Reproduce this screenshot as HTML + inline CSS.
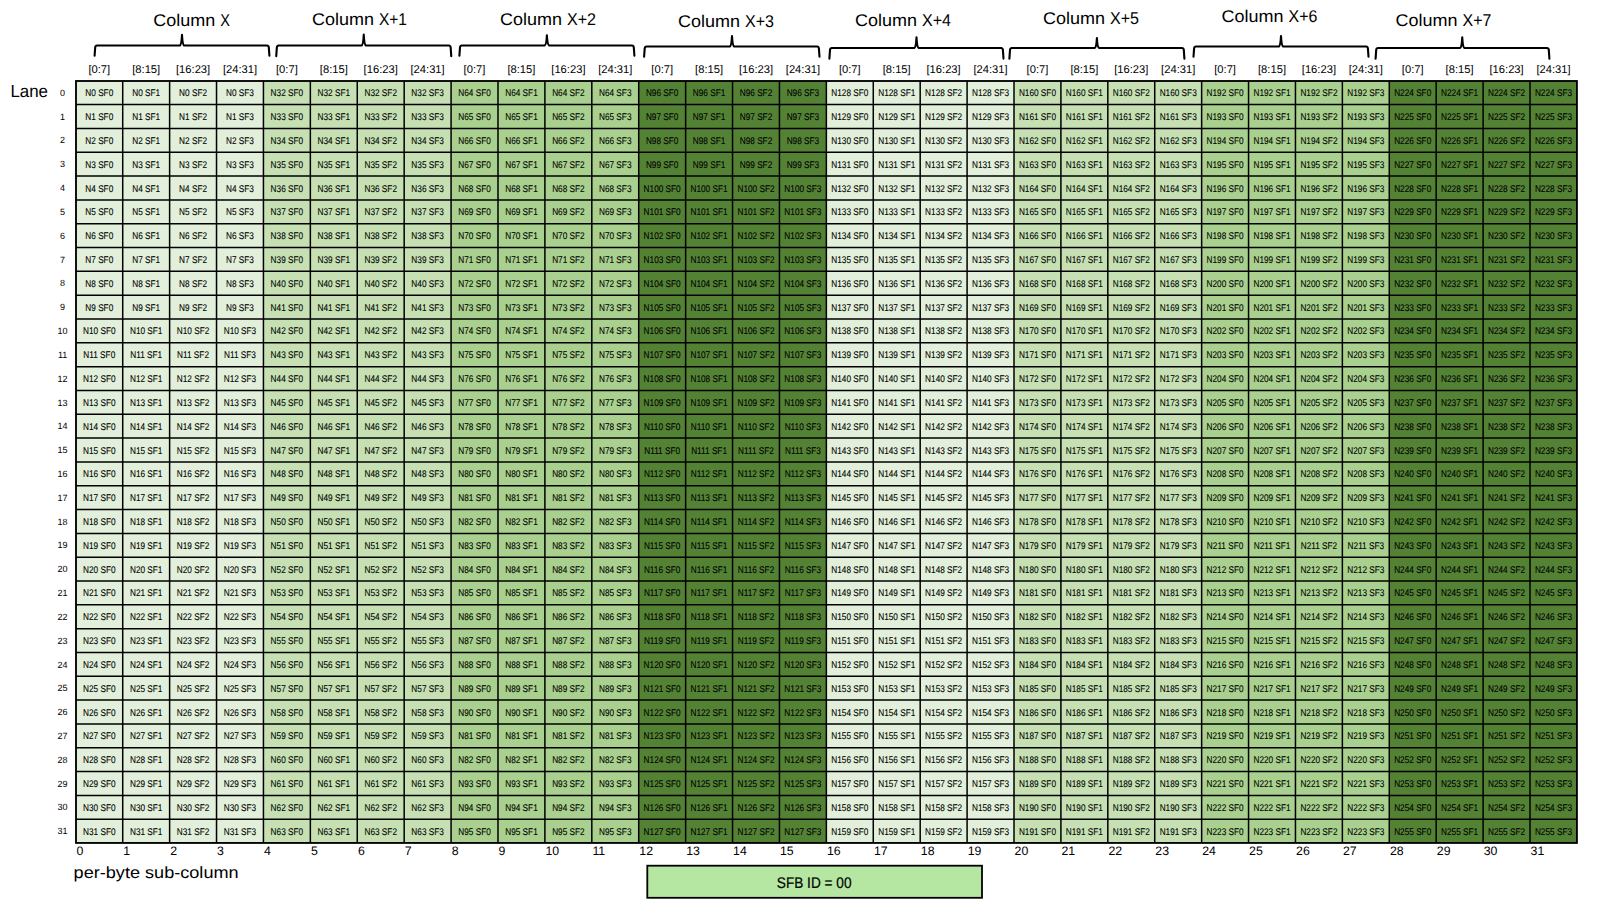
<!DOCTYPE html>
<html><head><meta charset="utf-8"><style>
html,body{margin:0;padding:0;background:#fff;width:1600px;height:900px;overflow:hidden}
svg{display:block;font-family:"Liberation Sans",sans-serif;text-rendering:geometricPrecision}
.c{font-size:9.70px;text-anchor:middle;fill:#000;stroke:#000;stroke-width:0.1px}
.r{font-size:9px;text-anchor:middle;fill:#000}
.b{font-size:11.2px;text-anchor:middle;fill:#000}
.h{font-size:17px;fill:#000}
.n{font-size:12.3px;fill:#000}
.br{fill:none;stroke:#000;stroke-width:2.1;stroke-linejoin:round;stroke-linecap:round}
</style></head><body>
<svg width="1600" height="900" viewBox="0 0 1600 900">

<rect x="75.80" y="80.80" width="187.64" height="762.24" fill="#E2EFDA"/>
<rect x="263.44" y="80.80" width="187.64" height="762.24" fill="#C6E0B4"/>
<rect x="451.08" y="80.80" width="187.64" height="762.24" fill="#A9D08E"/>
<rect x="638.72" y="80.80" width="187.64" height="762.24" fill="#548235"/>
<rect x="826.36" y="80.80" width="187.64" height="762.24" fill="#E2EFDA"/>
<rect x="1014.00" y="80.80" width="187.64" height="762.24" fill="#C6E0B4"/>
<rect x="1201.64" y="80.80" width="187.64" height="762.24" fill="#A9D08E"/>
<rect x="1389.28" y="80.80" width="187.64" height="762.24" fill="#548235"/>
<path d="M122.71 80.80V843.04M169.62 80.80V843.04M216.53 80.80V843.04M263.44 80.80V843.04M310.35 80.80V843.04M357.26 80.80V843.04M404.17 80.80V843.04M451.08 80.80V843.04M497.99 80.80V843.04M544.90 80.80V843.04M591.81 80.80V843.04M638.72 80.80V843.04M685.63 80.80V843.04M732.54 80.80V843.04M779.45 80.80V843.04M826.36 80.80V843.04M873.27 80.80V843.04M920.18 80.80V843.04M967.09 80.80V843.04M1014.00 80.80V843.04M1060.91 80.80V843.04M1107.82 80.80V843.04M1154.73 80.80V843.04M1201.64 80.80V843.04M1248.55 80.80V843.04M1295.46 80.80V843.04M1342.37 80.80V843.04M1389.28 80.80V843.04M1436.19 80.80V843.04M1483.10 80.80V843.04M1530.01 80.80V843.04M75.80 104.62H1576.92M75.80 128.44H1576.92M75.80 152.26H1576.92M75.80 176.08H1576.92M75.80 199.90H1576.92M75.80 223.72H1576.92M75.80 247.54H1576.92M75.80 271.36H1576.92M75.80 295.18H1576.92M75.80 319.00H1576.92M75.80 342.82H1576.92M75.80 366.64H1576.92M75.80 390.46H1576.92M75.80 414.28H1576.92M75.80 438.10H1576.92M75.80 461.92H1576.92M75.80 485.74H1576.92M75.80 509.56H1576.92M75.80 533.38H1576.92M75.80 557.20H1576.92M75.80 581.02H1576.92M75.80 604.84H1576.92M75.80 628.66H1576.92M75.80 652.48H1576.92M75.80 676.30H1576.92M75.80 700.12H1576.92M75.80 723.94H1576.92M75.80 747.76H1576.92M75.80 771.58H1576.92M75.80 795.40H1576.92M75.80 819.22H1576.92" stroke="#000" stroke-width="1.5" fill="none"/>
<rect x="76.00" y="81.00" width="1500.92" height="761.94" fill="none" stroke="#000" stroke-width="1.85"/>
<g transform="scale(0.850,1)">
<text class="c" x="116.8" y="96.2">N0 SF0</text>
<text class="c" x="172.0" y="96.2">N0 SF1</text>
<text class="c" x="227.1" y="96.2">N0 SF2</text>
<text class="c" x="282.3" y="96.2">N0 SF3</text>
<text class="c" x="337.5" y="96.2">N32 SF0</text>
<text class="c" x="392.7" y="96.2">N32 SF1</text>
<text class="c" x="447.9" y="96.2">N32 SF2</text>
<text class="c" x="503.1" y="96.2">N32 SF3</text>
<text class="c" x="558.3" y="96.2">N64 SF0</text>
<text class="c" x="613.5" y="96.2">N64 SF1</text>
<text class="c" x="668.7" y="96.2">N64 SF2</text>
<text class="c" x="723.8" y="96.2">N64 SF3</text>
<text class="c" x="779.0" y="96.2">N96 SF0</text>
<text class="c" x="834.2" y="96.2">N96 SF1</text>
<text class="c" x="889.4" y="96.2">N96 SF2</text>
<text class="c" x="944.6" y="96.2">N96 SF3</text>
<text class="c" x="999.8" y="96.2">N128 SF0</text>
<text class="c" x="1055.0" y="96.2">N128 SF1</text>
<text class="c" x="1110.2" y="96.2">N128 SF2</text>
<text class="c" x="1165.3" y="96.2">N128 SF3</text>
<text class="c" x="1220.5" y="96.2">N160 SF0</text>
<text class="c" x="1275.7" y="96.2">N160 SF1</text>
<text class="c" x="1330.9" y="96.2">N160 SF2</text>
<text class="c" x="1386.1" y="96.2">N160 SF3</text>
<text class="c" x="1441.3" y="96.2">N192 SF0</text>
<text class="c" x="1496.5" y="96.2">N192 SF1</text>
<text class="c" x="1551.7" y="96.2">N192 SF2</text>
<text class="c" x="1606.9" y="96.2">N192 SF3</text>
<text class="c" x="1662.0" y="96.2">N224 SF0</text>
<text class="c" x="1717.2" y="96.2">N224 SF1</text>
<text class="c" x="1772.4" y="96.2">N224 SF2</text>
<text class="c" x="1827.6" y="96.2">N224 SF3</text>
<text class="c" x="116.8" y="120.0">N1 SF0</text>
<text class="c" x="172.0" y="120.0">N1 SF1</text>
<text class="c" x="227.1" y="120.0">N1 SF2</text>
<text class="c" x="282.3" y="120.0">N1 SF3</text>
<text class="c" x="337.5" y="120.0">N33 SF0</text>
<text class="c" x="392.7" y="120.0">N33 SF1</text>
<text class="c" x="447.9" y="120.0">N33 SF2</text>
<text class="c" x="503.1" y="120.0">N33 SF3</text>
<text class="c" x="558.3" y="120.0">N65 SF0</text>
<text class="c" x="613.5" y="120.0">N65 SF1</text>
<text class="c" x="668.7" y="120.0">N65 SF2</text>
<text class="c" x="723.8" y="120.0">N65 SF3</text>
<text class="c" x="779.0" y="120.0">N97 SF0</text>
<text class="c" x="834.2" y="120.0">N97 SF1</text>
<text class="c" x="889.4" y="120.0">N97 SF2</text>
<text class="c" x="944.6" y="120.0">N97 SF3</text>
<text class="c" x="999.8" y="120.0">N129 SF0</text>
<text class="c" x="1055.0" y="120.0">N129 SF1</text>
<text class="c" x="1110.2" y="120.0">N129 SF2</text>
<text class="c" x="1165.3" y="120.0">N129 SF3</text>
<text class="c" x="1220.5" y="120.0">N161 SF0</text>
<text class="c" x="1275.7" y="120.0">N161 SF1</text>
<text class="c" x="1330.9" y="120.0">N161 SF2</text>
<text class="c" x="1386.1" y="120.0">N161 SF3</text>
<text class="c" x="1441.3" y="120.0">N193 SF0</text>
<text class="c" x="1496.5" y="120.0">N193 SF1</text>
<text class="c" x="1551.7" y="120.0">N193 SF2</text>
<text class="c" x="1606.9" y="120.0">N193 SF3</text>
<text class="c" x="1662.0" y="120.0">N225 SF0</text>
<text class="c" x="1717.2" y="120.0">N225 SF1</text>
<text class="c" x="1772.4" y="120.0">N225 SF2</text>
<text class="c" x="1827.6" y="120.0">N225 SF3</text>
<text class="c" x="116.8" y="143.8">N2 SF0</text>
<text class="c" x="172.0" y="143.8">N2 SF1</text>
<text class="c" x="227.1" y="143.8">N2 SF2</text>
<text class="c" x="282.3" y="143.8">N2 SF3</text>
<text class="c" x="337.5" y="143.8">N34 SF0</text>
<text class="c" x="392.7" y="143.8">N34 SF1</text>
<text class="c" x="447.9" y="143.8">N34 SF2</text>
<text class="c" x="503.1" y="143.8">N34 SF3</text>
<text class="c" x="558.3" y="143.8">N66 SF0</text>
<text class="c" x="613.5" y="143.8">N66 SF1</text>
<text class="c" x="668.7" y="143.8">N66 SF2</text>
<text class="c" x="723.8" y="143.8">N66 SF3</text>
<text class="c" x="779.0" y="143.8">N98 SF0</text>
<text class="c" x="834.2" y="143.8">N98 SF1</text>
<text class="c" x="889.4" y="143.8">N98 SF2</text>
<text class="c" x="944.6" y="143.8">N98 SF3</text>
<text class="c" x="999.8" y="143.8">N130 SF0</text>
<text class="c" x="1055.0" y="143.8">N130 SF1</text>
<text class="c" x="1110.2" y="143.8">N130 SF2</text>
<text class="c" x="1165.3" y="143.8">N130 SF3</text>
<text class="c" x="1220.5" y="143.8">N162 SF0</text>
<text class="c" x="1275.7" y="143.8">N162 SF1</text>
<text class="c" x="1330.9" y="143.8">N162 SF2</text>
<text class="c" x="1386.1" y="143.8">N162 SF3</text>
<text class="c" x="1441.3" y="143.8">N194 SF0</text>
<text class="c" x="1496.5" y="143.8">N194 SF1</text>
<text class="c" x="1551.7" y="143.8">N194 SF2</text>
<text class="c" x="1606.9" y="143.8">N194 SF3</text>
<text class="c" x="1662.0" y="143.8">N226 SF0</text>
<text class="c" x="1717.2" y="143.8">N226 SF1</text>
<text class="c" x="1772.4" y="143.8">N226 SF2</text>
<text class="c" x="1827.6" y="143.8">N226 SF3</text>
<text class="c" x="116.8" y="167.7">N3 SF0</text>
<text class="c" x="172.0" y="167.7">N3 SF1</text>
<text class="c" x="227.1" y="167.7">N3 SF2</text>
<text class="c" x="282.3" y="167.7">N3 SF3</text>
<text class="c" x="337.5" y="167.7">N35 SF0</text>
<text class="c" x="392.7" y="167.7">N35 SF1</text>
<text class="c" x="447.9" y="167.7">N35 SF2</text>
<text class="c" x="503.1" y="167.7">N35 SF3</text>
<text class="c" x="558.3" y="167.7">N67 SF0</text>
<text class="c" x="613.5" y="167.7">N67 SF1</text>
<text class="c" x="668.7" y="167.7">N67 SF2</text>
<text class="c" x="723.8" y="167.7">N67 SF3</text>
<text class="c" x="779.0" y="167.7">N99 SF0</text>
<text class="c" x="834.2" y="167.7">N99 SF1</text>
<text class="c" x="889.4" y="167.7">N99 SF2</text>
<text class="c" x="944.6" y="167.7">N99 SF3</text>
<text class="c" x="999.8" y="167.7">N131 SF0</text>
<text class="c" x="1055.0" y="167.7">N131 SF1</text>
<text class="c" x="1110.2" y="167.7">N131 SF2</text>
<text class="c" x="1165.3" y="167.7">N131 SF3</text>
<text class="c" x="1220.5" y="167.7">N163 SF0</text>
<text class="c" x="1275.7" y="167.7">N163 SF1</text>
<text class="c" x="1330.9" y="167.7">N163 SF2</text>
<text class="c" x="1386.1" y="167.7">N163 SF3</text>
<text class="c" x="1441.3" y="167.7">N195 SF0</text>
<text class="c" x="1496.5" y="167.7">N195 SF1</text>
<text class="c" x="1551.7" y="167.7">N195 SF2</text>
<text class="c" x="1606.9" y="167.7">N195 SF3</text>
<text class="c" x="1662.0" y="167.7">N227 SF0</text>
<text class="c" x="1717.2" y="167.7">N227 SF1</text>
<text class="c" x="1772.4" y="167.7">N227 SF2</text>
<text class="c" x="1827.6" y="167.7">N227 SF3</text>
<text class="c" x="116.8" y="191.5">N4 SF0</text>
<text class="c" x="172.0" y="191.5">N4 SF1</text>
<text class="c" x="227.1" y="191.5">N4 SF2</text>
<text class="c" x="282.3" y="191.5">N4 SF3</text>
<text class="c" x="337.5" y="191.5">N36 SF0</text>
<text class="c" x="392.7" y="191.5">N36 SF1</text>
<text class="c" x="447.9" y="191.5">N36 SF2</text>
<text class="c" x="503.1" y="191.5">N36 SF3</text>
<text class="c" x="558.3" y="191.5">N68 SF0</text>
<text class="c" x="613.5" y="191.5">N68 SF1</text>
<text class="c" x="668.7" y="191.5">N68 SF2</text>
<text class="c" x="723.8" y="191.5">N68 SF3</text>
<text class="c" x="779.0" y="191.5">N100 SF0</text>
<text class="c" x="834.2" y="191.5">N100 SF1</text>
<text class="c" x="889.4" y="191.5">N100 SF2</text>
<text class="c" x="944.6" y="191.5">N100 SF3</text>
<text class="c" x="999.8" y="191.5">N132 SF0</text>
<text class="c" x="1055.0" y="191.5">N132 SF1</text>
<text class="c" x="1110.2" y="191.5">N132 SF2</text>
<text class="c" x="1165.3" y="191.5">N132 SF3</text>
<text class="c" x="1220.5" y="191.5">N164 SF0</text>
<text class="c" x="1275.7" y="191.5">N164 SF1</text>
<text class="c" x="1330.9" y="191.5">N164 SF2</text>
<text class="c" x="1386.1" y="191.5">N164 SF3</text>
<text class="c" x="1441.3" y="191.5">N196 SF0</text>
<text class="c" x="1496.5" y="191.5">N196 SF1</text>
<text class="c" x="1551.7" y="191.5">N196 SF2</text>
<text class="c" x="1606.9" y="191.5">N196 SF3</text>
<text class="c" x="1662.0" y="191.5">N228 SF0</text>
<text class="c" x="1717.2" y="191.5">N228 SF1</text>
<text class="c" x="1772.4" y="191.5">N228 SF2</text>
<text class="c" x="1827.6" y="191.5">N228 SF3</text>
<text class="c" x="116.8" y="215.3">N5 SF0</text>
<text class="c" x="172.0" y="215.3">N5 SF1</text>
<text class="c" x="227.1" y="215.3">N5 SF2</text>
<text class="c" x="282.3" y="215.3">N5 SF3</text>
<text class="c" x="337.5" y="215.3">N37 SF0</text>
<text class="c" x="392.7" y="215.3">N37 SF1</text>
<text class="c" x="447.9" y="215.3">N37 SF2</text>
<text class="c" x="503.1" y="215.3">N37 SF3</text>
<text class="c" x="558.3" y="215.3">N69 SF0</text>
<text class="c" x="613.5" y="215.3">N69 SF1</text>
<text class="c" x="668.7" y="215.3">N69 SF2</text>
<text class="c" x="723.8" y="215.3">N69 SF3</text>
<text class="c" x="779.0" y="215.3">N101 SF0</text>
<text class="c" x="834.2" y="215.3">N101 SF1</text>
<text class="c" x="889.4" y="215.3">N101 SF2</text>
<text class="c" x="944.6" y="215.3">N101 SF3</text>
<text class="c" x="999.8" y="215.3">N133 SF0</text>
<text class="c" x="1055.0" y="215.3">N133 SF1</text>
<text class="c" x="1110.2" y="215.3">N133 SF2</text>
<text class="c" x="1165.3" y="215.3">N133 SF3</text>
<text class="c" x="1220.5" y="215.3">N165 SF0</text>
<text class="c" x="1275.7" y="215.3">N165 SF1</text>
<text class="c" x="1330.9" y="215.3">N165 SF2</text>
<text class="c" x="1386.1" y="215.3">N165 SF3</text>
<text class="c" x="1441.3" y="215.3">N197 SF0</text>
<text class="c" x="1496.5" y="215.3">N197 SF1</text>
<text class="c" x="1551.7" y="215.3">N197 SF2</text>
<text class="c" x="1606.9" y="215.3">N197 SF3</text>
<text class="c" x="1662.0" y="215.3">N229 SF0</text>
<text class="c" x="1717.2" y="215.3">N229 SF1</text>
<text class="c" x="1772.4" y="215.3">N229 SF2</text>
<text class="c" x="1827.6" y="215.3">N229 SF3</text>
<text class="c" x="116.8" y="239.1">N6 SF0</text>
<text class="c" x="172.0" y="239.1">N6 SF1</text>
<text class="c" x="227.1" y="239.1">N6 SF2</text>
<text class="c" x="282.3" y="239.1">N6 SF3</text>
<text class="c" x="337.5" y="239.1">N38 SF0</text>
<text class="c" x="392.7" y="239.1">N38 SF1</text>
<text class="c" x="447.9" y="239.1">N38 SF2</text>
<text class="c" x="503.1" y="239.1">N38 SF3</text>
<text class="c" x="558.3" y="239.1">N70 SF0</text>
<text class="c" x="613.5" y="239.1">N70 SF1</text>
<text class="c" x="668.7" y="239.1">N70 SF2</text>
<text class="c" x="723.8" y="239.1">N70 SF3</text>
<text class="c" x="779.0" y="239.1">N102 SF0</text>
<text class="c" x="834.2" y="239.1">N102 SF1</text>
<text class="c" x="889.4" y="239.1">N102 SF2</text>
<text class="c" x="944.6" y="239.1">N102 SF3</text>
<text class="c" x="999.8" y="239.1">N134 SF0</text>
<text class="c" x="1055.0" y="239.1">N134 SF1</text>
<text class="c" x="1110.2" y="239.1">N134 SF2</text>
<text class="c" x="1165.3" y="239.1">N134 SF3</text>
<text class="c" x="1220.5" y="239.1">N166 SF0</text>
<text class="c" x="1275.7" y="239.1">N166 SF1</text>
<text class="c" x="1330.9" y="239.1">N166 SF2</text>
<text class="c" x="1386.1" y="239.1">N166 SF3</text>
<text class="c" x="1441.3" y="239.1">N198 SF0</text>
<text class="c" x="1496.5" y="239.1">N198 SF1</text>
<text class="c" x="1551.7" y="239.1">N198 SF2</text>
<text class="c" x="1606.9" y="239.1">N198 SF3</text>
<text class="c" x="1662.0" y="239.1">N230 SF0</text>
<text class="c" x="1717.2" y="239.1">N230 SF1</text>
<text class="c" x="1772.4" y="239.1">N230 SF2</text>
<text class="c" x="1827.6" y="239.1">N230 SF3</text>
<text class="c" x="116.8" y="263.0">N7 SF0</text>
<text class="c" x="172.0" y="263.0">N7 SF1</text>
<text class="c" x="227.1" y="263.0">N7 SF2</text>
<text class="c" x="282.3" y="263.0">N7 SF3</text>
<text class="c" x="337.5" y="263.0">N39 SF0</text>
<text class="c" x="392.7" y="263.0">N39 SF1</text>
<text class="c" x="447.9" y="263.0">N39 SF2</text>
<text class="c" x="503.1" y="263.0">N39 SF3</text>
<text class="c" x="558.3" y="263.0">N71 SF0</text>
<text class="c" x="613.5" y="263.0">N71 SF1</text>
<text class="c" x="668.7" y="263.0">N71 SF2</text>
<text class="c" x="723.8" y="263.0">N71 SF3</text>
<text class="c" x="779.0" y="263.0">N103 SF0</text>
<text class="c" x="834.2" y="263.0">N103 SF1</text>
<text class="c" x="889.4" y="263.0">N103 SF2</text>
<text class="c" x="944.6" y="263.0">N103 SF3</text>
<text class="c" x="999.8" y="263.0">N135 SF0</text>
<text class="c" x="1055.0" y="263.0">N135 SF1</text>
<text class="c" x="1110.2" y="263.0">N135 SF2</text>
<text class="c" x="1165.3" y="263.0">N135 SF3</text>
<text class="c" x="1220.5" y="263.0">N167 SF0</text>
<text class="c" x="1275.7" y="263.0">N167 SF1</text>
<text class="c" x="1330.9" y="263.0">N167 SF2</text>
<text class="c" x="1386.1" y="263.0">N167 SF3</text>
<text class="c" x="1441.3" y="263.0">N199 SF0</text>
<text class="c" x="1496.5" y="263.0">N199 SF1</text>
<text class="c" x="1551.7" y="263.0">N199 SF2</text>
<text class="c" x="1606.9" y="263.0">N199 SF3</text>
<text class="c" x="1662.0" y="263.0">N231 SF0</text>
<text class="c" x="1717.2" y="263.0">N231 SF1</text>
<text class="c" x="1772.4" y="263.0">N231 SF2</text>
<text class="c" x="1827.6" y="263.0">N231 SF3</text>
<text class="c" x="116.8" y="286.8">N8 SF0</text>
<text class="c" x="172.0" y="286.8">N8 SF1</text>
<text class="c" x="227.1" y="286.8">N8 SF2</text>
<text class="c" x="282.3" y="286.8">N8 SF3</text>
<text class="c" x="337.5" y="286.8">N40 SF0</text>
<text class="c" x="392.7" y="286.8">N40 SF1</text>
<text class="c" x="447.9" y="286.8">N40 SF2</text>
<text class="c" x="503.1" y="286.8">N40 SF3</text>
<text class="c" x="558.3" y="286.8">N72 SF0</text>
<text class="c" x="613.5" y="286.8">N72 SF1</text>
<text class="c" x="668.7" y="286.8">N72 SF2</text>
<text class="c" x="723.8" y="286.8">N72 SF3</text>
<text class="c" x="779.0" y="286.8">N104 SF0</text>
<text class="c" x="834.2" y="286.8">N104 SF1</text>
<text class="c" x="889.4" y="286.8">N104 SF2</text>
<text class="c" x="944.6" y="286.8">N104 SF3</text>
<text class="c" x="999.8" y="286.8">N136 SF0</text>
<text class="c" x="1055.0" y="286.8">N136 SF1</text>
<text class="c" x="1110.2" y="286.8">N136 SF2</text>
<text class="c" x="1165.3" y="286.8">N136 SF3</text>
<text class="c" x="1220.5" y="286.8">N168 SF0</text>
<text class="c" x="1275.7" y="286.8">N168 SF1</text>
<text class="c" x="1330.9" y="286.8">N168 SF2</text>
<text class="c" x="1386.1" y="286.8">N168 SF3</text>
<text class="c" x="1441.3" y="286.8">N200 SF0</text>
<text class="c" x="1496.5" y="286.8">N200 SF1</text>
<text class="c" x="1551.7" y="286.8">N200 SF2</text>
<text class="c" x="1606.9" y="286.8">N200 SF3</text>
<text class="c" x="1662.0" y="286.8">N232 SF0</text>
<text class="c" x="1717.2" y="286.8">N232 SF1</text>
<text class="c" x="1772.4" y="286.8">N232 SF2</text>
<text class="c" x="1827.6" y="286.8">N232 SF3</text>
<text class="c" x="116.8" y="310.6">N9 SF0</text>
<text class="c" x="172.0" y="310.6">N9 SF1</text>
<text class="c" x="227.1" y="310.6">N9 SF2</text>
<text class="c" x="282.3" y="310.6">N9 SF3</text>
<text class="c" x="337.5" y="310.6">N41 SF0</text>
<text class="c" x="392.7" y="310.6">N41 SF1</text>
<text class="c" x="447.9" y="310.6">N41 SF2</text>
<text class="c" x="503.1" y="310.6">N41 SF3</text>
<text class="c" x="558.3" y="310.6">N73 SF0</text>
<text class="c" x="613.5" y="310.6">N73 SF1</text>
<text class="c" x="668.7" y="310.6">N73 SF2</text>
<text class="c" x="723.8" y="310.6">N73 SF3</text>
<text class="c" x="779.0" y="310.6">N105 SF0</text>
<text class="c" x="834.2" y="310.6">N105 SF1</text>
<text class="c" x="889.4" y="310.6">N105 SF2</text>
<text class="c" x="944.6" y="310.6">N105 SF3</text>
<text class="c" x="999.8" y="310.6">N137 SF0</text>
<text class="c" x="1055.0" y="310.6">N137 SF1</text>
<text class="c" x="1110.2" y="310.6">N137 SF2</text>
<text class="c" x="1165.3" y="310.6">N137 SF3</text>
<text class="c" x="1220.5" y="310.6">N169 SF0</text>
<text class="c" x="1275.7" y="310.6">N169 SF1</text>
<text class="c" x="1330.9" y="310.6">N169 SF2</text>
<text class="c" x="1386.1" y="310.6">N169 SF3</text>
<text class="c" x="1441.3" y="310.6">N201 SF0</text>
<text class="c" x="1496.5" y="310.6">N201 SF1</text>
<text class="c" x="1551.7" y="310.6">N201 SF2</text>
<text class="c" x="1606.9" y="310.6">N201 SF3</text>
<text class="c" x="1662.0" y="310.6">N233 SF0</text>
<text class="c" x="1717.2" y="310.6">N233 SF1</text>
<text class="c" x="1772.4" y="310.6">N233 SF2</text>
<text class="c" x="1827.6" y="310.6">N233 SF3</text>
<text class="c" x="116.8" y="334.4">N10 SF0</text>
<text class="c" x="172.0" y="334.4">N10 SF1</text>
<text class="c" x="227.1" y="334.4">N10 SF2</text>
<text class="c" x="282.3" y="334.4">N10 SF3</text>
<text class="c" x="337.5" y="334.4">N42 SF0</text>
<text class="c" x="392.7" y="334.4">N42 SF1</text>
<text class="c" x="447.9" y="334.4">N42 SF2</text>
<text class="c" x="503.1" y="334.4">N42 SF3</text>
<text class="c" x="558.3" y="334.4">N74 SF0</text>
<text class="c" x="613.5" y="334.4">N74 SF1</text>
<text class="c" x="668.7" y="334.4">N74 SF2</text>
<text class="c" x="723.8" y="334.4">N74 SF3</text>
<text class="c" x="779.0" y="334.4">N106 SF0</text>
<text class="c" x="834.2" y="334.4">N106 SF1</text>
<text class="c" x="889.4" y="334.4">N106 SF2</text>
<text class="c" x="944.6" y="334.4">N106 SF3</text>
<text class="c" x="999.8" y="334.4">N138 SF0</text>
<text class="c" x="1055.0" y="334.4">N138 SF1</text>
<text class="c" x="1110.2" y="334.4">N138 SF2</text>
<text class="c" x="1165.3" y="334.4">N138 SF3</text>
<text class="c" x="1220.5" y="334.4">N170 SF0</text>
<text class="c" x="1275.7" y="334.4">N170 SF1</text>
<text class="c" x="1330.9" y="334.4">N170 SF2</text>
<text class="c" x="1386.1" y="334.4">N170 SF3</text>
<text class="c" x="1441.3" y="334.4">N202 SF0</text>
<text class="c" x="1496.5" y="334.4">N202 SF1</text>
<text class="c" x="1551.7" y="334.4">N202 SF2</text>
<text class="c" x="1606.9" y="334.4">N202 SF3</text>
<text class="c" x="1662.0" y="334.4">N234 SF0</text>
<text class="c" x="1717.2" y="334.4">N234 SF1</text>
<text class="c" x="1772.4" y="334.4">N234 SF2</text>
<text class="c" x="1827.6" y="334.4">N234 SF3</text>
<text class="c" x="116.8" y="358.2">N11 SF0</text>
<text class="c" x="172.0" y="358.2">N11 SF1</text>
<text class="c" x="227.1" y="358.2">N11 SF2</text>
<text class="c" x="282.3" y="358.2">N11 SF3</text>
<text class="c" x="337.5" y="358.2">N43 SF0</text>
<text class="c" x="392.7" y="358.2">N43 SF1</text>
<text class="c" x="447.9" y="358.2">N43 SF2</text>
<text class="c" x="503.1" y="358.2">N43 SF3</text>
<text class="c" x="558.3" y="358.2">N75 SF0</text>
<text class="c" x="613.5" y="358.2">N75 SF1</text>
<text class="c" x="668.7" y="358.2">N75 SF2</text>
<text class="c" x="723.8" y="358.2">N75 SF3</text>
<text class="c" x="779.0" y="358.2">N107 SF0</text>
<text class="c" x="834.2" y="358.2">N107 SF1</text>
<text class="c" x="889.4" y="358.2">N107 SF2</text>
<text class="c" x="944.6" y="358.2">N107 SF3</text>
<text class="c" x="999.8" y="358.2">N139 SF0</text>
<text class="c" x="1055.0" y="358.2">N139 SF1</text>
<text class="c" x="1110.2" y="358.2">N139 SF2</text>
<text class="c" x="1165.3" y="358.2">N139 SF3</text>
<text class="c" x="1220.5" y="358.2">N171 SF0</text>
<text class="c" x="1275.7" y="358.2">N171 SF1</text>
<text class="c" x="1330.9" y="358.2">N171 SF2</text>
<text class="c" x="1386.1" y="358.2">N171 SF3</text>
<text class="c" x="1441.3" y="358.2">N203 SF0</text>
<text class="c" x="1496.5" y="358.2">N203 SF1</text>
<text class="c" x="1551.7" y="358.2">N203 SF2</text>
<text class="c" x="1606.9" y="358.2">N203 SF3</text>
<text class="c" x="1662.0" y="358.2">N235 SF0</text>
<text class="c" x="1717.2" y="358.2">N235 SF1</text>
<text class="c" x="1772.4" y="358.2">N235 SF2</text>
<text class="c" x="1827.6" y="358.2">N235 SF3</text>
<text class="c" x="116.8" y="382.1">N12 SF0</text>
<text class="c" x="172.0" y="382.1">N12 SF1</text>
<text class="c" x="227.1" y="382.1">N12 SF2</text>
<text class="c" x="282.3" y="382.1">N12 SF3</text>
<text class="c" x="337.5" y="382.1">N44 SF0</text>
<text class="c" x="392.7" y="382.1">N44 SF1</text>
<text class="c" x="447.9" y="382.1">N44 SF2</text>
<text class="c" x="503.1" y="382.1">N44 SF3</text>
<text class="c" x="558.3" y="382.1">N76 SF0</text>
<text class="c" x="613.5" y="382.1">N76 SF1</text>
<text class="c" x="668.7" y="382.1">N76 SF2</text>
<text class="c" x="723.8" y="382.1">N76 SF3</text>
<text class="c" x="779.0" y="382.1">N108 SF0</text>
<text class="c" x="834.2" y="382.1">N108 SF1</text>
<text class="c" x="889.4" y="382.1">N108 SF2</text>
<text class="c" x="944.6" y="382.1">N108 SF3</text>
<text class="c" x="999.8" y="382.1">N140 SF0</text>
<text class="c" x="1055.0" y="382.1">N140 SF1</text>
<text class="c" x="1110.2" y="382.1">N140 SF2</text>
<text class="c" x="1165.3" y="382.1">N140 SF3</text>
<text class="c" x="1220.5" y="382.1">N172 SF0</text>
<text class="c" x="1275.7" y="382.1">N172 SF1</text>
<text class="c" x="1330.9" y="382.1">N172 SF2</text>
<text class="c" x="1386.1" y="382.1">N172 SF3</text>
<text class="c" x="1441.3" y="382.1">N204 SF0</text>
<text class="c" x="1496.5" y="382.1">N204 SF1</text>
<text class="c" x="1551.7" y="382.1">N204 SF2</text>
<text class="c" x="1606.9" y="382.1">N204 SF3</text>
<text class="c" x="1662.0" y="382.1">N236 SF0</text>
<text class="c" x="1717.2" y="382.1">N236 SF1</text>
<text class="c" x="1772.4" y="382.1">N236 SF2</text>
<text class="c" x="1827.6" y="382.1">N236 SF3</text>
<text class="c" x="116.8" y="405.9">N13 SF0</text>
<text class="c" x="172.0" y="405.9">N13 SF1</text>
<text class="c" x="227.1" y="405.9">N13 SF2</text>
<text class="c" x="282.3" y="405.9">N13 SF3</text>
<text class="c" x="337.5" y="405.9">N45 SF0</text>
<text class="c" x="392.7" y="405.9">N45 SF1</text>
<text class="c" x="447.9" y="405.9">N45 SF2</text>
<text class="c" x="503.1" y="405.9">N45 SF3</text>
<text class="c" x="558.3" y="405.9">N77 SF0</text>
<text class="c" x="613.5" y="405.9">N77 SF1</text>
<text class="c" x="668.7" y="405.9">N77 SF2</text>
<text class="c" x="723.8" y="405.9">N77 SF3</text>
<text class="c" x="779.0" y="405.9">N109 SF0</text>
<text class="c" x="834.2" y="405.9">N109 SF1</text>
<text class="c" x="889.4" y="405.9">N109 SF2</text>
<text class="c" x="944.6" y="405.9">N109 SF3</text>
<text class="c" x="999.8" y="405.9">N141 SF0</text>
<text class="c" x="1055.0" y="405.9">N141 SF1</text>
<text class="c" x="1110.2" y="405.9">N141 SF2</text>
<text class="c" x="1165.3" y="405.9">N141 SF3</text>
<text class="c" x="1220.5" y="405.9">N173 SF0</text>
<text class="c" x="1275.7" y="405.9">N173 SF1</text>
<text class="c" x="1330.9" y="405.9">N173 SF2</text>
<text class="c" x="1386.1" y="405.9">N173 SF3</text>
<text class="c" x="1441.3" y="405.9">N205 SF0</text>
<text class="c" x="1496.5" y="405.9">N205 SF1</text>
<text class="c" x="1551.7" y="405.9">N205 SF2</text>
<text class="c" x="1606.9" y="405.9">N205 SF3</text>
<text class="c" x="1662.0" y="405.9">N237 SF0</text>
<text class="c" x="1717.2" y="405.9">N237 SF1</text>
<text class="c" x="1772.4" y="405.9">N237 SF2</text>
<text class="c" x="1827.6" y="405.9">N237 SF3</text>
<text class="c" x="116.8" y="429.7">N14 SF0</text>
<text class="c" x="172.0" y="429.7">N14 SF1</text>
<text class="c" x="227.1" y="429.7">N14 SF2</text>
<text class="c" x="282.3" y="429.7">N14 SF3</text>
<text class="c" x="337.5" y="429.7">N46 SF0</text>
<text class="c" x="392.7" y="429.7">N46 SF1</text>
<text class="c" x="447.9" y="429.7">N46 SF2</text>
<text class="c" x="503.1" y="429.7">N46 SF3</text>
<text class="c" x="558.3" y="429.7">N78 SF0</text>
<text class="c" x="613.5" y="429.7">N78 SF1</text>
<text class="c" x="668.7" y="429.7">N78 SF2</text>
<text class="c" x="723.8" y="429.7">N78 SF3</text>
<text class="c" x="779.0" y="429.7">N110 SF0</text>
<text class="c" x="834.2" y="429.7">N110 SF1</text>
<text class="c" x="889.4" y="429.7">N110 SF2</text>
<text class="c" x="944.6" y="429.7">N110 SF3</text>
<text class="c" x="999.8" y="429.7">N142 SF0</text>
<text class="c" x="1055.0" y="429.7">N142 SF1</text>
<text class="c" x="1110.2" y="429.7">N142 SF2</text>
<text class="c" x="1165.3" y="429.7">N142 SF3</text>
<text class="c" x="1220.5" y="429.7">N174 SF0</text>
<text class="c" x="1275.7" y="429.7">N174 SF1</text>
<text class="c" x="1330.9" y="429.7">N174 SF2</text>
<text class="c" x="1386.1" y="429.7">N174 SF3</text>
<text class="c" x="1441.3" y="429.7">N206 SF0</text>
<text class="c" x="1496.5" y="429.7">N206 SF1</text>
<text class="c" x="1551.7" y="429.7">N206 SF2</text>
<text class="c" x="1606.9" y="429.7">N206 SF3</text>
<text class="c" x="1662.0" y="429.7">N238 SF0</text>
<text class="c" x="1717.2" y="429.7">N238 SF1</text>
<text class="c" x="1772.4" y="429.7">N238 SF2</text>
<text class="c" x="1827.6" y="429.7">N238 SF3</text>
<text class="c" x="116.8" y="453.5">N15 SF0</text>
<text class="c" x="172.0" y="453.5">N15 SF1</text>
<text class="c" x="227.1" y="453.5">N15 SF2</text>
<text class="c" x="282.3" y="453.5">N15 SF3</text>
<text class="c" x="337.5" y="453.5">N47 SF0</text>
<text class="c" x="392.7" y="453.5">N47 SF1</text>
<text class="c" x="447.9" y="453.5">N47 SF2</text>
<text class="c" x="503.1" y="453.5">N47 SF3</text>
<text class="c" x="558.3" y="453.5">N79 SF0</text>
<text class="c" x="613.5" y="453.5">N79 SF1</text>
<text class="c" x="668.7" y="453.5">N79 SF2</text>
<text class="c" x="723.8" y="453.5">N79 SF3</text>
<text class="c" x="779.0" y="453.5">N111 SF0</text>
<text class="c" x="834.2" y="453.5">N111 SF1</text>
<text class="c" x="889.4" y="453.5">N111 SF2</text>
<text class="c" x="944.6" y="453.5">N111 SF3</text>
<text class="c" x="999.8" y="453.5">N143 SF0</text>
<text class="c" x="1055.0" y="453.5">N143 SF1</text>
<text class="c" x="1110.2" y="453.5">N143 SF2</text>
<text class="c" x="1165.3" y="453.5">N143 SF3</text>
<text class="c" x="1220.5" y="453.5">N175 SF0</text>
<text class="c" x="1275.7" y="453.5">N175 SF1</text>
<text class="c" x="1330.9" y="453.5">N175 SF2</text>
<text class="c" x="1386.1" y="453.5">N175 SF3</text>
<text class="c" x="1441.3" y="453.5">N207 SF0</text>
<text class="c" x="1496.5" y="453.5">N207 SF1</text>
<text class="c" x="1551.7" y="453.5">N207 SF2</text>
<text class="c" x="1606.9" y="453.5">N207 SF3</text>
<text class="c" x="1662.0" y="453.5">N239 SF0</text>
<text class="c" x="1717.2" y="453.5">N239 SF1</text>
<text class="c" x="1772.4" y="453.5">N239 SF2</text>
<text class="c" x="1827.6" y="453.5">N239 SF3</text>
<text class="c" x="116.8" y="477.3">N16 SF0</text>
<text class="c" x="172.0" y="477.3">N16 SF1</text>
<text class="c" x="227.1" y="477.3">N16 SF2</text>
<text class="c" x="282.3" y="477.3">N16 SF3</text>
<text class="c" x="337.5" y="477.3">N48 SF0</text>
<text class="c" x="392.7" y="477.3">N48 SF1</text>
<text class="c" x="447.9" y="477.3">N48 SF2</text>
<text class="c" x="503.1" y="477.3">N48 SF3</text>
<text class="c" x="558.3" y="477.3">N80 SF0</text>
<text class="c" x="613.5" y="477.3">N80 SF1</text>
<text class="c" x="668.7" y="477.3">N80 SF2</text>
<text class="c" x="723.8" y="477.3">N80 SF3</text>
<text class="c" x="779.0" y="477.3">N112 SF0</text>
<text class="c" x="834.2" y="477.3">N112 SF1</text>
<text class="c" x="889.4" y="477.3">N112 SF2</text>
<text class="c" x="944.6" y="477.3">N112 SF3</text>
<text class="c" x="999.8" y="477.3">N144 SF0</text>
<text class="c" x="1055.0" y="477.3">N144 SF1</text>
<text class="c" x="1110.2" y="477.3">N144 SF2</text>
<text class="c" x="1165.3" y="477.3">N144 SF3</text>
<text class="c" x="1220.5" y="477.3">N176 SF0</text>
<text class="c" x="1275.7" y="477.3">N176 SF1</text>
<text class="c" x="1330.9" y="477.3">N176 SF2</text>
<text class="c" x="1386.1" y="477.3">N176 SF3</text>
<text class="c" x="1441.3" y="477.3">N208 SF0</text>
<text class="c" x="1496.5" y="477.3">N208 SF1</text>
<text class="c" x="1551.7" y="477.3">N208 SF2</text>
<text class="c" x="1606.9" y="477.3">N208 SF3</text>
<text class="c" x="1662.0" y="477.3">N240 SF0</text>
<text class="c" x="1717.2" y="477.3">N240 SF1</text>
<text class="c" x="1772.4" y="477.3">N240 SF2</text>
<text class="c" x="1827.6" y="477.3">N240 SF3</text>
<text class="c" x="116.8" y="501.2">N17 SF0</text>
<text class="c" x="172.0" y="501.2">N17 SF1</text>
<text class="c" x="227.1" y="501.2">N17 SF2</text>
<text class="c" x="282.3" y="501.2">N17 SF3</text>
<text class="c" x="337.5" y="501.2">N49 SF0</text>
<text class="c" x="392.7" y="501.2">N49 SF1</text>
<text class="c" x="447.9" y="501.2">N49 SF2</text>
<text class="c" x="503.1" y="501.2">N49 SF3</text>
<text class="c" x="558.3" y="501.2">N81 SF0</text>
<text class="c" x="613.5" y="501.2">N81 SF1</text>
<text class="c" x="668.7" y="501.2">N81 SF2</text>
<text class="c" x="723.8" y="501.2">N81 SF3</text>
<text class="c" x="779.0" y="501.2">N113 SF0</text>
<text class="c" x="834.2" y="501.2">N113 SF1</text>
<text class="c" x="889.4" y="501.2">N113 SF2</text>
<text class="c" x="944.6" y="501.2">N113 SF3</text>
<text class="c" x="999.8" y="501.2">N145 SF0</text>
<text class="c" x="1055.0" y="501.2">N145 SF1</text>
<text class="c" x="1110.2" y="501.2">N145 SF2</text>
<text class="c" x="1165.3" y="501.2">N145 SF3</text>
<text class="c" x="1220.5" y="501.2">N177 SF0</text>
<text class="c" x="1275.7" y="501.2">N177 SF1</text>
<text class="c" x="1330.9" y="501.2">N177 SF2</text>
<text class="c" x="1386.1" y="501.2">N177 SF3</text>
<text class="c" x="1441.3" y="501.2">N209 SF0</text>
<text class="c" x="1496.5" y="501.2">N209 SF1</text>
<text class="c" x="1551.7" y="501.2">N209 SF2</text>
<text class="c" x="1606.9" y="501.2">N209 SF3</text>
<text class="c" x="1662.0" y="501.2">N241 SF0</text>
<text class="c" x="1717.2" y="501.2">N241 SF1</text>
<text class="c" x="1772.4" y="501.2">N241 SF2</text>
<text class="c" x="1827.6" y="501.2">N241 SF3</text>
<text class="c" x="116.8" y="525.0">N18 SF0</text>
<text class="c" x="172.0" y="525.0">N18 SF1</text>
<text class="c" x="227.1" y="525.0">N18 SF2</text>
<text class="c" x="282.3" y="525.0">N18 SF3</text>
<text class="c" x="337.5" y="525.0">N50 SF0</text>
<text class="c" x="392.7" y="525.0">N50 SF1</text>
<text class="c" x="447.9" y="525.0">N50 SF2</text>
<text class="c" x="503.1" y="525.0">N50 SF3</text>
<text class="c" x="558.3" y="525.0">N82 SF0</text>
<text class="c" x="613.5" y="525.0">N82 SF1</text>
<text class="c" x="668.7" y="525.0">N82 SF2</text>
<text class="c" x="723.8" y="525.0">N82 SF3</text>
<text class="c" x="779.0" y="525.0">N114 SF0</text>
<text class="c" x="834.2" y="525.0">N114 SF1</text>
<text class="c" x="889.4" y="525.0">N114 SF2</text>
<text class="c" x="944.6" y="525.0">N114 SF3</text>
<text class="c" x="999.8" y="525.0">N146 SF0</text>
<text class="c" x="1055.0" y="525.0">N146 SF1</text>
<text class="c" x="1110.2" y="525.0">N146 SF2</text>
<text class="c" x="1165.3" y="525.0">N146 SF3</text>
<text class="c" x="1220.5" y="525.0">N178 SF0</text>
<text class="c" x="1275.7" y="525.0">N178 SF1</text>
<text class="c" x="1330.9" y="525.0">N178 SF2</text>
<text class="c" x="1386.1" y="525.0">N178 SF3</text>
<text class="c" x="1441.3" y="525.0">N210 SF0</text>
<text class="c" x="1496.5" y="525.0">N210 SF1</text>
<text class="c" x="1551.7" y="525.0">N210 SF2</text>
<text class="c" x="1606.9" y="525.0">N210 SF3</text>
<text class="c" x="1662.0" y="525.0">N242 SF0</text>
<text class="c" x="1717.2" y="525.0">N242 SF1</text>
<text class="c" x="1772.4" y="525.0">N242 SF2</text>
<text class="c" x="1827.6" y="525.0">N242 SF3</text>
<text class="c" x="116.8" y="548.8">N19 SF0</text>
<text class="c" x="172.0" y="548.8">N19 SF1</text>
<text class="c" x="227.1" y="548.8">N19 SF2</text>
<text class="c" x="282.3" y="548.8">N19 SF3</text>
<text class="c" x="337.5" y="548.8">N51 SF0</text>
<text class="c" x="392.7" y="548.8">N51 SF1</text>
<text class="c" x="447.9" y="548.8">N51 SF2</text>
<text class="c" x="503.1" y="548.8">N51 SF3</text>
<text class="c" x="558.3" y="548.8">N83 SF0</text>
<text class="c" x="613.5" y="548.8">N83 SF1</text>
<text class="c" x="668.7" y="548.8">N83 SF2</text>
<text class="c" x="723.8" y="548.8">N83 SF3</text>
<text class="c" x="779.0" y="548.8">N115 SF0</text>
<text class="c" x="834.2" y="548.8">N115 SF1</text>
<text class="c" x="889.4" y="548.8">N115 SF2</text>
<text class="c" x="944.6" y="548.8">N115 SF3</text>
<text class="c" x="999.8" y="548.8">N147 SF0</text>
<text class="c" x="1055.0" y="548.8">N147 SF1</text>
<text class="c" x="1110.2" y="548.8">N147 SF2</text>
<text class="c" x="1165.3" y="548.8">N147 SF3</text>
<text class="c" x="1220.5" y="548.8">N179 SF0</text>
<text class="c" x="1275.7" y="548.8">N179 SF1</text>
<text class="c" x="1330.9" y="548.8">N179 SF2</text>
<text class="c" x="1386.1" y="548.8">N179 SF3</text>
<text class="c" x="1441.3" y="548.8">N211 SF0</text>
<text class="c" x="1496.5" y="548.8">N211 SF1</text>
<text class="c" x="1551.7" y="548.8">N211 SF2</text>
<text class="c" x="1606.9" y="548.8">N211 SF3</text>
<text class="c" x="1662.0" y="548.8">N243 SF0</text>
<text class="c" x="1717.2" y="548.8">N243 SF1</text>
<text class="c" x="1772.4" y="548.8">N243 SF2</text>
<text class="c" x="1827.6" y="548.8">N243 SF3</text>
<text class="c" x="116.8" y="572.6">N20 SF0</text>
<text class="c" x="172.0" y="572.6">N20 SF1</text>
<text class="c" x="227.1" y="572.6">N20 SF2</text>
<text class="c" x="282.3" y="572.6">N20 SF3</text>
<text class="c" x="337.5" y="572.6">N52 SF0</text>
<text class="c" x="392.7" y="572.6">N52 SF1</text>
<text class="c" x="447.9" y="572.6">N52 SF2</text>
<text class="c" x="503.1" y="572.6">N52 SF3</text>
<text class="c" x="558.3" y="572.6">N84 SF0</text>
<text class="c" x="613.5" y="572.6">N84 SF1</text>
<text class="c" x="668.7" y="572.6">N84 SF2</text>
<text class="c" x="723.8" y="572.6">N84 SF3</text>
<text class="c" x="779.0" y="572.6">N116 SF0</text>
<text class="c" x="834.2" y="572.6">N116 SF1</text>
<text class="c" x="889.4" y="572.6">N116 SF2</text>
<text class="c" x="944.6" y="572.6">N116 SF3</text>
<text class="c" x="999.8" y="572.6">N148 SF0</text>
<text class="c" x="1055.0" y="572.6">N148 SF1</text>
<text class="c" x="1110.2" y="572.6">N148 SF2</text>
<text class="c" x="1165.3" y="572.6">N148 SF3</text>
<text class="c" x="1220.5" y="572.6">N180 SF0</text>
<text class="c" x="1275.7" y="572.6">N180 SF1</text>
<text class="c" x="1330.9" y="572.6">N180 SF2</text>
<text class="c" x="1386.1" y="572.6">N180 SF3</text>
<text class="c" x="1441.3" y="572.6">N212 SF0</text>
<text class="c" x="1496.5" y="572.6">N212 SF1</text>
<text class="c" x="1551.7" y="572.6">N212 SF2</text>
<text class="c" x="1606.9" y="572.6">N212 SF3</text>
<text class="c" x="1662.0" y="572.6">N244 SF0</text>
<text class="c" x="1717.2" y="572.6">N244 SF1</text>
<text class="c" x="1772.4" y="572.6">N244 SF2</text>
<text class="c" x="1827.6" y="572.6">N244 SF3</text>
<text class="c" x="116.8" y="596.4">N21 SF0</text>
<text class="c" x="172.0" y="596.4">N21 SF1</text>
<text class="c" x="227.1" y="596.4">N21 SF2</text>
<text class="c" x="282.3" y="596.4">N21 SF3</text>
<text class="c" x="337.5" y="596.4">N53 SF0</text>
<text class="c" x="392.7" y="596.4">N53 SF1</text>
<text class="c" x="447.9" y="596.4">N53 SF2</text>
<text class="c" x="503.1" y="596.4">N53 SF3</text>
<text class="c" x="558.3" y="596.4">N85 SF0</text>
<text class="c" x="613.5" y="596.4">N85 SF1</text>
<text class="c" x="668.7" y="596.4">N85 SF2</text>
<text class="c" x="723.8" y="596.4">N85 SF3</text>
<text class="c" x="779.0" y="596.4">N117 SF0</text>
<text class="c" x="834.2" y="596.4">N117 SF1</text>
<text class="c" x="889.4" y="596.4">N117 SF2</text>
<text class="c" x="944.6" y="596.4">N117 SF3</text>
<text class="c" x="999.8" y="596.4">N149 SF0</text>
<text class="c" x="1055.0" y="596.4">N149 SF1</text>
<text class="c" x="1110.2" y="596.4">N149 SF2</text>
<text class="c" x="1165.3" y="596.4">N149 SF3</text>
<text class="c" x="1220.5" y="596.4">N181 SF0</text>
<text class="c" x="1275.7" y="596.4">N181 SF1</text>
<text class="c" x="1330.9" y="596.4">N181 SF2</text>
<text class="c" x="1386.1" y="596.4">N181 SF3</text>
<text class="c" x="1441.3" y="596.4">N213 SF0</text>
<text class="c" x="1496.5" y="596.4">N213 SF1</text>
<text class="c" x="1551.7" y="596.4">N213 SF2</text>
<text class="c" x="1606.9" y="596.4">N213 SF3</text>
<text class="c" x="1662.0" y="596.4">N245 SF0</text>
<text class="c" x="1717.2" y="596.4">N245 SF1</text>
<text class="c" x="1772.4" y="596.4">N245 SF2</text>
<text class="c" x="1827.6" y="596.4">N245 SF3</text>
<text class="c" x="116.8" y="620.2">N22 SF0</text>
<text class="c" x="172.0" y="620.2">N22 SF1</text>
<text class="c" x="227.1" y="620.2">N22 SF2</text>
<text class="c" x="282.3" y="620.2">N22 SF3</text>
<text class="c" x="337.5" y="620.2">N54 SF0</text>
<text class="c" x="392.7" y="620.2">N54 SF1</text>
<text class="c" x="447.9" y="620.2">N54 SF2</text>
<text class="c" x="503.1" y="620.2">N54 SF3</text>
<text class="c" x="558.3" y="620.2">N86 SF0</text>
<text class="c" x="613.5" y="620.2">N86 SF1</text>
<text class="c" x="668.7" y="620.2">N86 SF2</text>
<text class="c" x="723.8" y="620.2">N86 SF3</text>
<text class="c" x="779.0" y="620.2">N118 SF0</text>
<text class="c" x="834.2" y="620.2">N118 SF1</text>
<text class="c" x="889.4" y="620.2">N118 SF2</text>
<text class="c" x="944.6" y="620.2">N118 SF3</text>
<text class="c" x="999.8" y="620.2">N150 SF0</text>
<text class="c" x="1055.0" y="620.2">N150 SF1</text>
<text class="c" x="1110.2" y="620.2">N150 SF2</text>
<text class="c" x="1165.3" y="620.2">N150 SF3</text>
<text class="c" x="1220.5" y="620.2">N182 SF0</text>
<text class="c" x="1275.7" y="620.2">N182 SF1</text>
<text class="c" x="1330.9" y="620.2">N182 SF2</text>
<text class="c" x="1386.1" y="620.2">N182 SF3</text>
<text class="c" x="1441.3" y="620.2">N214 SF0</text>
<text class="c" x="1496.5" y="620.2">N214 SF1</text>
<text class="c" x="1551.7" y="620.2">N214 SF2</text>
<text class="c" x="1606.9" y="620.2">N214 SF3</text>
<text class="c" x="1662.0" y="620.2">N246 SF0</text>
<text class="c" x="1717.2" y="620.2">N246 SF1</text>
<text class="c" x="1772.4" y="620.2">N246 SF2</text>
<text class="c" x="1827.6" y="620.2">N246 SF3</text>
<text class="c" x="116.8" y="644.1">N23 SF0</text>
<text class="c" x="172.0" y="644.1">N23 SF1</text>
<text class="c" x="227.1" y="644.1">N23 SF2</text>
<text class="c" x="282.3" y="644.1">N23 SF3</text>
<text class="c" x="337.5" y="644.1">N55 SF0</text>
<text class="c" x="392.7" y="644.1">N55 SF1</text>
<text class="c" x="447.9" y="644.1">N55 SF2</text>
<text class="c" x="503.1" y="644.1">N55 SF3</text>
<text class="c" x="558.3" y="644.1">N87 SF0</text>
<text class="c" x="613.5" y="644.1">N87 SF1</text>
<text class="c" x="668.7" y="644.1">N87 SF2</text>
<text class="c" x="723.8" y="644.1">N87 SF3</text>
<text class="c" x="779.0" y="644.1">N119 SF0</text>
<text class="c" x="834.2" y="644.1">N119 SF1</text>
<text class="c" x="889.4" y="644.1">N119 SF2</text>
<text class="c" x="944.6" y="644.1">N119 SF3</text>
<text class="c" x="999.8" y="644.1">N151 SF0</text>
<text class="c" x="1055.0" y="644.1">N151 SF1</text>
<text class="c" x="1110.2" y="644.1">N151 SF2</text>
<text class="c" x="1165.3" y="644.1">N151 SF3</text>
<text class="c" x="1220.5" y="644.1">N183 SF0</text>
<text class="c" x="1275.7" y="644.1">N183 SF1</text>
<text class="c" x="1330.9" y="644.1">N183 SF2</text>
<text class="c" x="1386.1" y="644.1">N183 SF3</text>
<text class="c" x="1441.3" y="644.1">N215 SF0</text>
<text class="c" x="1496.5" y="644.1">N215 SF1</text>
<text class="c" x="1551.7" y="644.1">N215 SF2</text>
<text class="c" x="1606.9" y="644.1">N215 SF3</text>
<text class="c" x="1662.0" y="644.1">N247 SF0</text>
<text class="c" x="1717.2" y="644.1">N247 SF1</text>
<text class="c" x="1772.4" y="644.1">N247 SF2</text>
<text class="c" x="1827.6" y="644.1">N247 SF3</text>
<text class="c" x="116.8" y="667.9">N24 SF0</text>
<text class="c" x="172.0" y="667.9">N24 SF1</text>
<text class="c" x="227.1" y="667.9">N24 SF2</text>
<text class="c" x="282.3" y="667.9">N24 SF3</text>
<text class="c" x="337.5" y="667.9">N56 SF0</text>
<text class="c" x="392.7" y="667.9">N56 SF1</text>
<text class="c" x="447.9" y="667.9">N56 SF2</text>
<text class="c" x="503.1" y="667.9">N56 SF3</text>
<text class="c" x="558.3" y="667.9">N88 SF0</text>
<text class="c" x="613.5" y="667.9">N88 SF1</text>
<text class="c" x="668.7" y="667.9">N88 SF2</text>
<text class="c" x="723.8" y="667.9">N88 SF3</text>
<text class="c" x="779.0" y="667.9">N120 SF0</text>
<text class="c" x="834.2" y="667.9">N120 SF1</text>
<text class="c" x="889.4" y="667.9">N120 SF2</text>
<text class="c" x="944.6" y="667.9">N120 SF3</text>
<text class="c" x="999.8" y="667.9">N152 SF0</text>
<text class="c" x="1055.0" y="667.9">N152 SF1</text>
<text class="c" x="1110.2" y="667.9">N152 SF2</text>
<text class="c" x="1165.3" y="667.9">N152 SF3</text>
<text class="c" x="1220.5" y="667.9">N184 SF0</text>
<text class="c" x="1275.7" y="667.9">N184 SF1</text>
<text class="c" x="1330.9" y="667.9">N184 SF2</text>
<text class="c" x="1386.1" y="667.9">N184 SF3</text>
<text class="c" x="1441.3" y="667.9">N216 SF0</text>
<text class="c" x="1496.5" y="667.9">N216 SF1</text>
<text class="c" x="1551.7" y="667.9">N216 SF2</text>
<text class="c" x="1606.9" y="667.9">N216 SF3</text>
<text class="c" x="1662.0" y="667.9">N248 SF0</text>
<text class="c" x="1717.2" y="667.9">N248 SF1</text>
<text class="c" x="1772.4" y="667.9">N248 SF2</text>
<text class="c" x="1827.6" y="667.9">N248 SF3</text>
<text class="c" x="116.8" y="691.7">N25 SF0</text>
<text class="c" x="172.0" y="691.7">N25 SF1</text>
<text class="c" x="227.1" y="691.7">N25 SF2</text>
<text class="c" x="282.3" y="691.7">N25 SF3</text>
<text class="c" x="337.5" y="691.7">N57 SF0</text>
<text class="c" x="392.7" y="691.7">N57 SF1</text>
<text class="c" x="447.9" y="691.7">N57 SF2</text>
<text class="c" x="503.1" y="691.7">N57 SF3</text>
<text class="c" x="558.3" y="691.7">N89 SF0</text>
<text class="c" x="613.5" y="691.7">N89 SF1</text>
<text class="c" x="668.7" y="691.7">N89 SF2</text>
<text class="c" x="723.8" y="691.7">N89 SF3</text>
<text class="c" x="779.0" y="691.7">N121 SF0</text>
<text class="c" x="834.2" y="691.7">N121 SF1</text>
<text class="c" x="889.4" y="691.7">N121 SF2</text>
<text class="c" x="944.6" y="691.7">N121 SF3</text>
<text class="c" x="999.8" y="691.7">N153 SF0</text>
<text class="c" x="1055.0" y="691.7">N153 SF1</text>
<text class="c" x="1110.2" y="691.7">N153 SF2</text>
<text class="c" x="1165.3" y="691.7">N153 SF3</text>
<text class="c" x="1220.5" y="691.7">N185 SF0</text>
<text class="c" x="1275.7" y="691.7">N185 SF1</text>
<text class="c" x="1330.9" y="691.7">N185 SF2</text>
<text class="c" x="1386.1" y="691.7">N185 SF3</text>
<text class="c" x="1441.3" y="691.7">N217 SF0</text>
<text class="c" x="1496.5" y="691.7">N217 SF1</text>
<text class="c" x="1551.7" y="691.7">N217 SF2</text>
<text class="c" x="1606.9" y="691.7">N217 SF3</text>
<text class="c" x="1662.0" y="691.7">N249 SF0</text>
<text class="c" x="1717.2" y="691.7">N249 SF1</text>
<text class="c" x="1772.4" y="691.7">N249 SF2</text>
<text class="c" x="1827.6" y="691.7">N249 SF3</text>
<text class="c" x="116.8" y="715.5">N26 SF0</text>
<text class="c" x="172.0" y="715.5">N26 SF1</text>
<text class="c" x="227.1" y="715.5">N26 SF2</text>
<text class="c" x="282.3" y="715.5">N26 SF3</text>
<text class="c" x="337.5" y="715.5">N58 SF0</text>
<text class="c" x="392.7" y="715.5">N58 SF1</text>
<text class="c" x="447.9" y="715.5">N58 SF2</text>
<text class="c" x="503.1" y="715.5">N58 SF3</text>
<text class="c" x="558.3" y="715.5">N90 SF0</text>
<text class="c" x="613.5" y="715.5">N90 SF1</text>
<text class="c" x="668.7" y="715.5">N90 SF2</text>
<text class="c" x="723.8" y="715.5">N90 SF3</text>
<text class="c" x="779.0" y="715.5">N122 SF0</text>
<text class="c" x="834.2" y="715.5">N122 SF1</text>
<text class="c" x="889.4" y="715.5">N122 SF2</text>
<text class="c" x="944.6" y="715.5">N122 SF3</text>
<text class="c" x="999.8" y="715.5">N154 SF0</text>
<text class="c" x="1055.0" y="715.5">N154 SF1</text>
<text class="c" x="1110.2" y="715.5">N154 SF2</text>
<text class="c" x="1165.3" y="715.5">N154 SF3</text>
<text class="c" x="1220.5" y="715.5">N186 SF0</text>
<text class="c" x="1275.7" y="715.5">N186 SF1</text>
<text class="c" x="1330.9" y="715.5">N186 SF2</text>
<text class="c" x="1386.1" y="715.5">N186 SF3</text>
<text class="c" x="1441.3" y="715.5">N218 SF0</text>
<text class="c" x="1496.5" y="715.5">N218 SF1</text>
<text class="c" x="1551.7" y="715.5">N218 SF2</text>
<text class="c" x="1606.9" y="715.5">N218 SF3</text>
<text class="c" x="1662.0" y="715.5">N250 SF0</text>
<text class="c" x="1717.2" y="715.5">N250 SF1</text>
<text class="c" x="1772.4" y="715.5">N250 SF2</text>
<text class="c" x="1827.6" y="715.5">N250 SF3</text>
<text class="c" x="116.8" y="739.3">N27 SF0</text>
<text class="c" x="172.0" y="739.3">N27 SF1</text>
<text class="c" x="227.1" y="739.3">N27 SF2</text>
<text class="c" x="282.3" y="739.3">N27 SF3</text>
<text class="c" x="337.5" y="739.3">N59 SF0</text>
<text class="c" x="392.7" y="739.3">N59 SF1</text>
<text class="c" x="447.9" y="739.3">N59 SF2</text>
<text class="c" x="503.1" y="739.3">N59 SF3</text>
<text class="c" x="558.3" y="739.3">N81 SF0</text>
<text class="c" x="613.5" y="739.3">N81 SF1</text>
<text class="c" x="668.7" y="739.3">N81 SF2</text>
<text class="c" x="723.8" y="739.3">N81 SF3</text>
<text class="c" x="779.0" y="739.3">N123 SF0</text>
<text class="c" x="834.2" y="739.3">N123 SF1</text>
<text class="c" x="889.4" y="739.3">N123 SF2</text>
<text class="c" x="944.6" y="739.3">N123 SF3</text>
<text class="c" x="999.8" y="739.3">N155 SF0</text>
<text class="c" x="1055.0" y="739.3">N155 SF1</text>
<text class="c" x="1110.2" y="739.3">N155 SF2</text>
<text class="c" x="1165.3" y="739.3">N155 SF3</text>
<text class="c" x="1220.5" y="739.3">N187 SF0</text>
<text class="c" x="1275.7" y="739.3">N187 SF1</text>
<text class="c" x="1330.9" y="739.3">N187 SF2</text>
<text class="c" x="1386.1" y="739.3">N187 SF3</text>
<text class="c" x="1441.3" y="739.3">N219 SF0</text>
<text class="c" x="1496.5" y="739.3">N219 SF1</text>
<text class="c" x="1551.7" y="739.3">N219 SF2</text>
<text class="c" x="1606.9" y="739.3">N219 SF3</text>
<text class="c" x="1662.0" y="739.3">N251 SF0</text>
<text class="c" x="1717.2" y="739.3">N251 SF1</text>
<text class="c" x="1772.4" y="739.3">N251 SF2</text>
<text class="c" x="1827.6" y="739.3">N251 SF3</text>
<text class="c" x="116.8" y="763.2">N28 SF0</text>
<text class="c" x="172.0" y="763.2">N28 SF1</text>
<text class="c" x="227.1" y="763.2">N28 SF2</text>
<text class="c" x="282.3" y="763.2">N28 SF3</text>
<text class="c" x="337.5" y="763.2">N60 SF0</text>
<text class="c" x="392.7" y="763.2">N60 SF1</text>
<text class="c" x="447.9" y="763.2">N60 SF2</text>
<text class="c" x="503.1" y="763.2">N60 SF3</text>
<text class="c" x="558.3" y="763.2">N82 SF0</text>
<text class="c" x="613.5" y="763.2">N82 SF1</text>
<text class="c" x="668.7" y="763.2">N82 SF2</text>
<text class="c" x="723.8" y="763.2">N82 SF3</text>
<text class="c" x="779.0" y="763.2">N124 SF0</text>
<text class="c" x="834.2" y="763.2">N124 SF1</text>
<text class="c" x="889.4" y="763.2">N124 SF2</text>
<text class="c" x="944.6" y="763.2">N124 SF3</text>
<text class="c" x="999.8" y="763.2">N156 SF0</text>
<text class="c" x="1055.0" y="763.2">N156 SF1</text>
<text class="c" x="1110.2" y="763.2">N156 SF2</text>
<text class="c" x="1165.3" y="763.2">N156 SF3</text>
<text class="c" x="1220.5" y="763.2">N188 SF0</text>
<text class="c" x="1275.7" y="763.2">N188 SF1</text>
<text class="c" x="1330.9" y="763.2">N188 SF2</text>
<text class="c" x="1386.1" y="763.2">N188 SF3</text>
<text class="c" x="1441.3" y="763.2">N220 SF0</text>
<text class="c" x="1496.5" y="763.2">N220 SF1</text>
<text class="c" x="1551.7" y="763.2">N220 SF2</text>
<text class="c" x="1606.9" y="763.2">N220 SF3</text>
<text class="c" x="1662.0" y="763.2">N252 SF0</text>
<text class="c" x="1717.2" y="763.2">N252 SF1</text>
<text class="c" x="1772.4" y="763.2">N252 SF2</text>
<text class="c" x="1827.6" y="763.2">N252 SF3</text>
<text class="c" x="116.8" y="787.0">N29 SF0</text>
<text class="c" x="172.0" y="787.0">N29 SF1</text>
<text class="c" x="227.1" y="787.0">N29 SF2</text>
<text class="c" x="282.3" y="787.0">N29 SF3</text>
<text class="c" x="337.5" y="787.0">N61 SF0</text>
<text class="c" x="392.7" y="787.0">N61 SF1</text>
<text class="c" x="447.9" y="787.0">N61 SF2</text>
<text class="c" x="503.1" y="787.0">N61 SF3</text>
<text class="c" x="558.3" y="787.0">N93 SF0</text>
<text class="c" x="613.5" y="787.0">N93 SF1</text>
<text class="c" x="668.7" y="787.0">N93 SF2</text>
<text class="c" x="723.8" y="787.0">N93 SF3</text>
<text class="c" x="779.0" y="787.0">N125 SF0</text>
<text class="c" x="834.2" y="787.0">N125 SF1</text>
<text class="c" x="889.4" y="787.0">N125 SF2</text>
<text class="c" x="944.6" y="787.0">N125 SF3</text>
<text class="c" x="999.8" y="787.0">N157 SF0</text>
<text class="c" x="1055.0" y="787.0">N157 SF1</text>
<text class="c" x="1110.2" y="787.0">N157 SF2</text>
<text class="c" x="1165.3" y="787.0">N157 SF3</text>
<text class="c" x="1220.5" y="787.0">N189 SF0</text>
<text class="c" x="1275.7" y="787.0">N189 SF1</text>
<text class="c" x="1330.9" y="787.0">N189 SF2</text>
<text class="c" x="1386.1" y="787.0">N189 SF3</text>
<text class="c" x="1441.3" y="787.0">N221 SF0</text>
<text class="c" x="1496.5" y="787.0">N221 SF1</text>
<text class="c" x="1551.7" y="787.0">N221 SF2</text>
<text class="c" x="1606.9" y="787.0">N221 SF3</text>
<text class="c" x="1662.0" y="787.0">N253 SF0</text>
<text class="c" x="1717.2" y="787.0">N253 SF1</text>
<text class="c" x="1772.4" y="787.0">N253 SF2</text>
<text class="c" x="1827.6" y="787.0">N253 SF3</text>
<text class="c" x="116.8" y="810.8">N30 SF0</text>
<text class="c" x="172.0" y="810.8">N30 SF1</text>
<text class="c" x="227.1" y="810.8">N30 SF2</text>
<text class="c" x="282.3" y="810.8">N30 SF3</text>
<text class="c" x="337.5" y="810.8">N62 SF0</text>
<text class="c" x="392.7" y="810.8">N62 SF1</text>
<text class="c" x="447.9" y="810.8">N62 SF2</text>
<text class="c" x="503.1" y="810.8">N62 SF3</text>
<text class="c" x="558.3" y="810.8">N94 SF0</text>
<text class="c" x="613.5" y="810.8">N94 SF1</text>
<text class="c" x="668.7" y="810.8">N94 SF2</text>
<text class="c" x="723.8" y="810.8">N94 SF3</text>
<text class="c" x="779.0" y="810.8">N126 SF0</text>
<text class="c" x="834.2" y="810.8">N126 SF1</text>
<text class="c" x="889.4" y="810.8">N126 SF2</text>
<text class="c" x="944.6" y="810.8">N126 SF3</text>
<text class="c" x="999.8" y="810.8">N158 SF0</text>
<text class="c" x="1055.0" y="810.8">N158 SF1</text>
<text class="c" x="1110.2" y="810.8">N158 SF2</text>
<text class="c" x="1165.3" y="810.8">N158 SF3</text>
<text class="c" x="1220.5" y="810.8">N190 SF0</text>
<text class="c" x="1275.7" y="810.8">N190 SF1</text>
<text class="c" x="1330.9" y="810.8">N190 SF2</text>
<text class="c" x="1386.1" y="810.8">N190 SF3</text>
<text class="c" x="1441.3" y="810.8">N222 SF0</text>
<text class="c" x="1496.5" y="810.8">N222 SF1</text>
<text class="c" x="1551.7" y="810.8">N222 SF2</text>
<text class="c" x="1606.9" y="810.8">N222 SF3</text>
<text class="c" x="1662.0" y="810.8">N254 SF0</text>
<text class="c" x="1717.2" y="810.8">N254 SF1</text>
<text class="c" x="1772.4" y="810.8">N254 SF2</text>
<text class="c" x="1827.6" y="810.8">N254 SF3</text>
<text class="c" x="116.8" y="834.6">N31 SF0</text>
<text class="c" x="172.0" y="834.6">N31 SF1</text>
<text class="c" x="227.1" y="834.6">N31 SF2</text>
<text class="c" x="282.3" y="834.6">N31 SF3</text>
<text class="c" x="337.5" y="834.6">N63 SF0</text>
<text class="c" x="392.7" y="834.6">N63 SF1</text>
<text class="c" x="447.9" y="834.6">N63 SF2</text>
<text class="c" x="503.1" y="834.6">N63 SF3</text>
<text class="c" x="558.3" y="834.6">N95 SF0</text>
<text class="c" x="613.5" y="834.6">N95 SF1</text>
<text class="c" x="668.7" y="834.6">N95 SF2</text>
<text class="c" x="723.8" y="834.6">N95 SF3</text>
<text class="c" x="779.0" y="834.6">N127 SF0</text>
<text class="c" x="834.2" y="834.6">N127 SF1</text>
<text class="c" x="889.4" y="834.6">N127 SF2</text>
<text class="c" x="944.6" y="834.6">N127 SF3</text>
<text class="c" x="999.8" y="834.6">N159 SF0</text>
<text class="c" x="1055.0" y="834.6">N159 SF1</text>
<text class="c" x="1110.2" y="834.6">N159 SF2</text>
<text class="c" x="1165.3" y="834.6">N159 SF3</text>
<text class="c" x="1220.5" y="834.6">N191 SF0</text>
<text class="c" x="1275.7" y="834.6">N191 SF1</text>
<text class="c" x="1330.9" y="834.6">N191 SF2</text>
<text class="c" x="1386.1" y="834.6">N191 SF3</text>
<text class="c" x="1441.3" y="834.6">N223 SF0</text>
<text class="c" x="1496.5" y="834.6">N223 SF1</text>
<text class="c" x="1551.7" y="834.6">N223 SF2</text>
<text class="c" x="1606.9" y="834.6">N223 SF3</text>
<text class="c" x="1662.0" y="834.6">N255 SF0</text>
<text class="c" x="1717.2" y="834.6">N255 SF1</text>
<text class="c" x="1772.4" y="834.6">N255 SF2</text>
<text class="c" x="1827.6" y="834.6">N255 SF3</text>
</g>
<text class="r" x="62.6" y="95.8">0</text>
<text class="r" x="62.6" y="119.6">1</text>
<text class="r" x="62.6" y="143.4">2</text>
<text class="r" x="62.6" y="167.3">3</text>
<text class="r" x="62.6" y="191.1">4</text>
<text class="r" x="62.6" y="214.9">5</text>
<text class="r" x="62.6" y="238.7">6</text>
<text class="r" x="62.6" y="262.6">7</text>
<text class="r" x="62.6" y="286.4">8</text>
<text class="r" x="62.6" y="310.2">9</text>
<text class="r" x="62.6" y="334.0">10</text>
<text class="r" x="62.6" y="357.8">11</text>
<text class="r" x="62.6" y="381.7">12</text>
<text class="r" x="62.6" y="405.5">13</text>
<text class="r" x="62.6" y="429.3">14</text>
<text class="r" x="62.6" y="453.1">15</text>
<text class="r" x="62.6" y="476.9">16</text>
<text class="r" x="62.6" y="500.8">17</text>
<text class="r" x="62.6" y="524.6">18</text>
<text class="r" x="62.6" y="548.4">19</text>
<text class="r" x="62.6" y="572.2">20</text>
<text class="r" x="62.6" y="596.0">21</text>
<text class="r" x="62.6" y="619.8">22</text>
<text class="r" x="62.6" y="643.7">23</text>
<text class="r" x="62.6" y="667.5">24</text>
<text class="r" x="62.6" y="691.3">25</text>
<text class="r" x="62.6" y="715.1">26</text>
<text class="r" x="62.6" y="738.9">27</text>
<text class="r" x="62.6" y="762.8">28</text>
<text class="r" x="62.6" y="786.6">29</text>
<text class="r" x="62.6" y="810.4">30</text>
<text class="r" x="62.6" y="834.2">31</text>
<text class="b" x="99.3" y="72.6">[0:7]</text>
<text class="b" x="146.2" y="72.6">[8:15]</text>
<text class="b" x="193.1" y="72.6">[16:23]</text>
<text class="b" x="240.0" y="72.6">[24:31]</text>
<text class="b" x="286.9" y="72.6">[0:7]</text>
<text class="b" x="333.8" y="72.6">[8:15]</text>
<text class="b" x="380.7" y="72.6">[16:23]</text>
<text class="b" x="427.6" y="72.6">[24:31]</text>
<text class="b" x="474.5" y="72.6">[0:7]</text>
<text class="b" x="521.4" y="72.6">[8:15]</text>
<text class="b" x="568.4" y="72.6">[16:23]</text>
<text class="b" x="615.3" y="72.6">[24:31]</text>
<text class="b" x="662.2" y="72.6">[0:7]</text>
<text class="b" x="709.1" y="72.6">[8:15]</text>
<text class="b" x="756.0" y="72.6">[16:23]</text>
<text class="b" x="802.9" y="72.6">[24:31]</text>
<text class="b" x="849.8" y="72.6">[0:7]</text>
<text class="b" x="896.7" y="72.6">[8:15]</text>
<text class="b" x="943.6" y="72.6">[16:23]</text>
<text class="b" x="990.5" y="72.6">[24:31]</text>
<text class="b" x="1037.5" y="72.6">[0:7]</text>
<text class="b" x="1084.4" y="72.6">[8:15]</text>
<text class="b" x="1131.3" y="72.6">[16:23]</text>
<text class="b" x="1178.2" y="72.6">[24:31]</text>
<text class="b" x="1225.1" y="72.6">[0:7]</text>
<text class="b" x="1272.0" y="72.6">[8:15]</text>
<text class="b" x="1318.9" y="72.6">[16:23]</text>
<text class="b" x="1365.8" y="72.6">[24:31]</text>
<text class="b" x="1412.7" y="72.6">[0:7]</text>
<text class="b" x="1459.6" y="72.6">[8:15]</text>
<text class="b" x="1506.6" y="72.6">[16:23]</text>
<text class="b" x="1553.5" y="72.6">[24:31]</text>
<text class="n" x="76.4" y="855">0</text>
<text class="n" x="123.3" y="855">1</text>
<text class="n" x="170.2" y="855">2</text>
<text class="n" x="217.1" y="855">3</text>
<text class="n" x="264.0" y="855">4</text>
<text class="n" x="310.9" y="855">5</text>
<text class="n" x="357.9" y="855">6</text>
<text class="n" x="404.8" y="855">7</text>
<text class="n" x="451.7" y="855">8</text>
<text class="n" x="498.6" y="855">9</text>
<text class="n" x="545.5" y="855">10</text>
<text class="n" x="592.4" y="855">11</text>
<text class="n" x="639.3" y="855">12</text>
<text class="n" x="686.2" y="855">13</text>
<text class="n" x="733.1" y="855">14</text>
<text class="n" x="780.0" y="855">15</text>
<text class="n" x="827.0" y="855">16</text>
<text class="n" x="873.9" y="855">17</text>
<text class="n" x="920.8" y="855">18</text>
<text class="n" x="967.7" y="855">19</text>
<text class="n" x="1014.6" y="855">20</text>
<text class="n" x="1061.5" y="855">21</text>
<text class="n" x="1108.4" y="855">22</text>
<text class="n" x="1155.3" y="855">23</text>
<text class="n" x="1202.2" y="855">24</text>
<text class="n" x="1249.1" y="855">25</text>
<text class="n" x="1296.1" y="855">26</text>
<text class="n" x="1343.0" y="855">27</text>
<text class="n" x="1389.9" y="855">28</text>
<text class="n" x="1436.8" y="855">29</text>
<text class="n" x="1483.7" y="855">30</text>
<text class="n" x="1530.6" y="855">31</text>
<text class="h" x="153.2" y="26.1" textLength="62" lengthAdjust="spacingAndGlyphs">Column</text>
<text class="h" x="220.2" y="26.1" textLength="9.7" lengthAdjust="spacingAndGlyphs">X</text>
<text class="h" x="312.0" y="25.0" textLength="62" lengthAdjust="spacingAndGlyphs">Column</text>
<text class="h" x="379.0" y="25.0" textLength="28.0" lengthAdjust="spacingAndGlyphs">X+1</text>
<text class="h" x="500.0" y="25.0" textLength="62" lengthAdjust="spacingAndGlyphs">Column</text>
<text class="h" x="567.0" y="25.0" textLength="29.0" lengthAdjust="spacingAndGlyphs">X+2</text>
<text class="h" x="678.0" y="27.0" textLength="62" lengthAdjust="spacingAndGlyphs">Column</text>
<text class="h" x="745.0" y="27.0" textLength="29.0" lengthAdjust="spacingAndGlyphs">X+3</text>
<text class="h" x="855.0" y="26.0" textLength="62" lengthAdjust="spacingAndGlyphs">Column</text>
<text class="h" x="922.0" y="26.0" textLength="29.0" lengthAdjust="spacingAndGlyphs">X+4</text>
<text class="h" x="1043.0" y="24.0" textLength="62" lengthAdjust="spacingAndGlyphs">Column</text>
<text class="h" x="1110.0" y="24.0" textLength="29.0" lengthAdjust="spacingAndGlyphs">X+5</text>
<text class="h" x="1221.6" y="21.6" textLength="62" lengthAdjust="spacingAndGlyphs">Column</text>
<text class="h" x="1288.6" y="21.6" textLength="28.8" lengthAdjust="spacingAndGlyphs">X+6</text>
<text class="h" x="1395.6" y="26.0" textLength="62" lengthAdjust="spacingAndGlyphs">Column</text>
<text class="h" x="1462.6" y="26.0" textLength="28.8" lengthAdjust="spacingAndGlyphs">X+7</text>
<path class="br" d="M94.60 55.80 L95.20 47.40 Q95.50 45.50 97.00 45.50 L179.80 45.50 Q181.45 45.00 182.00 34.90 Q182.55 45.00 184.20 45.50 L267.00 45.50 Q268.50 45.50 268.80 47.40 L269.40 55.80"/>
<path class="br" d="M276.25 56.10 L276.85 47.40 Q277.15 45.50 278.65 45.50 L361.55 45.50 Q363.20 45.00 363.75 34.65 Q364.30 45.00 365.95 45.50 L448.85 45.50 Q450.35 45.50 450.65 47.40 L451.25 56.10"/>
<path class="br" d="M459.40 55.75 L460.00 47.40 Q460.30 45.50 461.80 45.50 L544.70 45.50 Q546.35 45.00 546.90 35.30 Q547.45 45.00 549.10 45.50 L632.00 45.50 Q633.50 45.50 633.80 47.40 L634.40 55.75"/>
<path class="br" d="M644.10 56.75 L644.70 48.40 Q645.00 46.50 646.50 46.50 L729.80 46.50 Q731.45 46.00 732.00 36.15 Q732.55 46.00 734.20 46.50 L817.10 46.50 Q818.60 46.50 818.90 48.40 L819.50 56.75"/>
<path class="br" d="M829.40 58.60 L830.00 49.90 Q830.30 48.00 831.80 48.00 L914.30 48.00 Q915.95 47.50 916.50 37.40 Q917.05 47.50 918.70 48.00 L1001.10 48.00 Q1002.60 48.00 1002.90 49.90 L1003.50 58.60"/>
<path class="br" d="M1009.40 58.60 L1010.00 49.90 Q1010.30 48.00 1011.80 48.00 L1094.70 48.00 Q1096.35 47.50 1096.90 38.15 Q1097.45 47.50 1099.10 48.00 L1182.00 48.00 Q1183.50 48.00 1183.80 49.90 L1184.40 58.60"/>
<path class="br" d="M1193.50 56.75 L1194.10 48.40 Q1194.40 46.50 1195.90 46.50 L1278.80 46.50 Q1280.45 46.00 1281.00 36.15 Q1281.55 46.00 1283.20 46.50 L1366.10 46.50 Q1367.60 46.50 1367.90 48.40 L1368.50 56.75"/>
<path class="br" d="M1375.60 58.60 L1376.20 49.90 Q1376.50 48.00 1378.00 48.00 L1460.05 48.00 Q1461.70 47.50 1462.25 37.40 Q1462.80 47.50 1464.45 48.00 L1547.00 48.00 Q1548.50 48.00 1548.80 49.90 L1549.40 58.60"/>
<text class="h" x="10.4" y="96.9" textLength="37.6" lengthAdjust="spacingAndGlyphs" style="font-size:17.4px">Lane</text>
<text class="h" x="73.6" y="877.9" textLength="165" lengthAdjust="spacingAndGlyphs" style="font-size:16.4px">per-byte sub-column</text>
<rect x="647.3" y="865.7" width="334.7" height="32.1" fill="#B5E6A2" stroke="#000" stroke-width="1.8"/>
<text x="776.8" y="887.9" textLength="74.7" lengthAdjust="spacingAndGlyphs" style="font-size:15.4px;stroke:#000;stroke-width:0.2px">SFB ID = 00</text>
</svg></body></html>
